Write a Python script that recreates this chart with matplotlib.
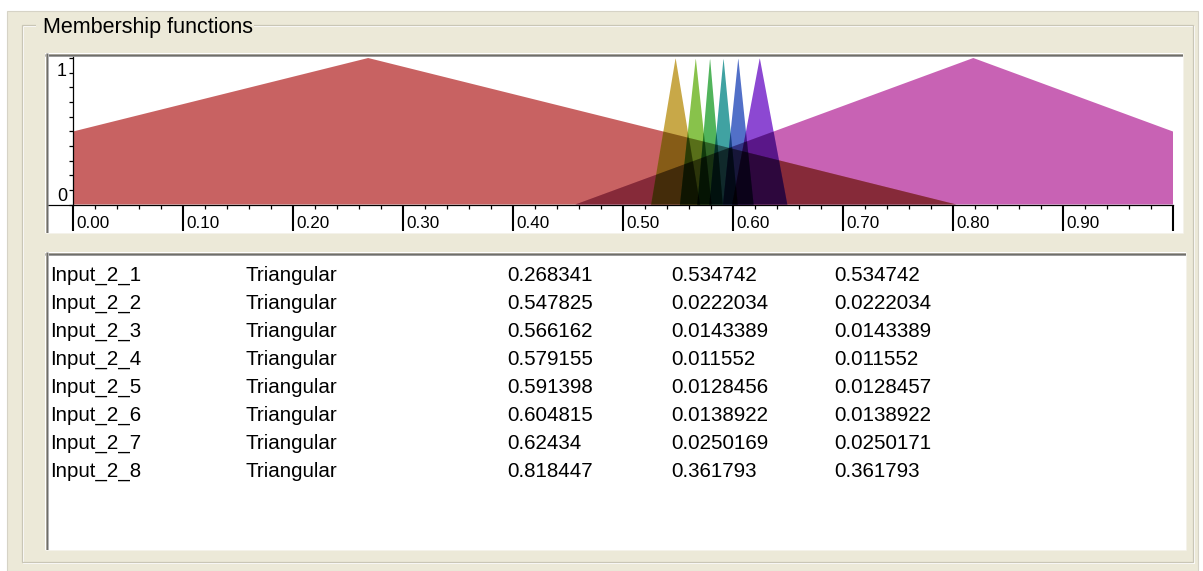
import numpy as np
import matplotlib
matplotlib.use("Agg")
import matplotlib.pyplot as plt
from matplotlib.patches import Rectangle
from matplotlib.lines import Line2D
import matplotlib.transforms as mtransforms

# ---------------- data ----------------
mf_names = ["Input_2_1", "Input_2_2", "Input_2_3", "Input_2_4",
            "Input_2_5", "Input_2_6", "Input_2_7", "Input_2_8"]
mf_types = ["Triangular"] * 8
mf_centers = [0.268341, 0.547825, 0.566162, 0.579155,
              0.591398, 0.604815, 0.62434, 0.818447]
mf_left = [0.534742, 0.0222034, 0.0143389, 0.011552,
           0.0128456, 0.0138922, 0.0250169, 0.361793]
mf_right = [0.534742, 0.0222034, 0.0143389, 0.011552,
            0.0128457, 0.0138922, 0.0250171, 0.361793]
mf_colors = ["#C86262", "#C8A848", "#88C24A", "#52B45C",
             "#36A2A2", "#5270C8", "#8C48D2", "#C862B4"]

x_major = [0.0, 0.1, 0.2, 0.3, 0.4, 0.5, 0.6, 0.7, 0.8, 0.9, 1.0]
x_labels = ["0.00", "0.10", "0.20", "0.30", "0.40", "0.50",
            "0.60", "0.70", "0.80", "0.90", ""]
y_major = [0, 1]
y_labels = ["0", "1"]
title = "Membership functions"

# ---------------- layout helpers ----------------
W, H = 1203, 571
fig = plt.figure(figsize=(W / 100, H / 100), dpi=100)
fig.patch.set_facecolor("white")

REG = ["Liberation Sans", "DejaVu Sans"]

bg = fig.add_axes([0, 0, 1, 1], zorder=0)
bg.set_xlim(0, W)
bg.set_ylim(H, 0)
bg.axis("off")

BEIGE = "#ECE9D8"


def rect(x0, y0, x1, y1, fc, ec="none", lw=0, z=1):
    bg.add_patch(Rectangle((x0, y0), x1 - x0, y1 - y0, facecolor=fc,
                           edgecolor=ec, linewidth=lw, zorder=z))


def hline(x0, x1, y, c, lw=1, z=3):
    bg.add_line(Line2D([x0, x1], [y, y], color=c, linewidth=lw * 0.72, zorder=z,
                       solid_capstyle="butt"))


def vline(x, y0, y1, c, lw=1, z=3):
    bg.add_line(Line2D([x, x], [y0, y1], color=c, linewidth=lw * 0.72, zorder=z,
                       solid_capstyle="butt"))


def sunken(x0, y0, x1, y1):
    rect(x0, y0, x1, y1, "white", z=1)
    hline(x0, x1, y0 + 0.5, "#A6A39A", 1)
    hline(x0, x1, y0 + 1.5, "#6F6E6A", 1)
    hline(x0, x1, y0 + 2.5, "#9C9C9C", 1)
    vline(x0 + 0.5, y0, y1, "#A6A39A", 1)
    vline(x0 + 1.5, y0, y1, "#6F6E6A", 1)
    vline(x0 + 2.5, y0, y1, "#B4B4B4", 1)
    hline(x0, x1, y1 - 0.5, "#F4F2EA", 1)
    vline(x1 - 0.5, y0, y1, "#F4F2EA", 1)


# window background
rect(7, 11, 1198, 571, BEIGE, ec="#D6D3C6", lw=0.8, z=0.5)
# group box (etched)
rect(22, 25, 1193, 562, "none", ec="#C9C6B6", lw=0.9, z=2)
rect(23, 26, 1194, 563, "none", ec="white", lw=0.7, z=1.9)
bg.text(37, 33, " " + title, family=REG, fontsize=15.5, color="black",
        ha="left", va="baseline", zorder=5,
        bbox=dict(facecolor=BEIGE, edgecolor="none", pad=0.5))

# plot panel and list panel
sunken(45, 53, 1183, 233)
sunken(45, 252, 1186, 550)

# x-axis continuation left of the y axis
hline(48, 73, 204.5, "black", 1.2, z=4)

# ---------------- membership function plot ----------------
ax = fig.add_axes([73 / W, 1 - 204.5 / H, 1100 / W, 147.5 / H], zorder=2)
ax.patch.set_visible(False)
ax.set_xlim(0, 1)
ax.set_ylim(0, 1.0 + 1.0 / 146)

xs = np.linspace(0, 1, 4001)


def tri(c, wl, wr):
    m = np.where(xs < c, 1 - (c - xs) / wl, 1 - (xs - c) / wr)
    return np.clip(m, 0, 1)


mus = [tri(c, l, r) for c, l, r in zip(mf_centers, mf_left, mf_right)]

ALPHA = 0.75


def base_color(hexc, a=ALPHA):
    rgb = np.array(matplotlib.colors.to_rgb(hexc))
    return tuple(np.clip((rgb - (1 - a)) / a, 0, 1))


order = [7, 0, 1, 2, 3, 4, 5, 6]
for i in order:
    ax.fill_between(xs, 0, mus[i], facecolor=base_color(mf_colors[i]),
                    alpha=ALPHA, linewidth=0, zorder=1)

# darken overlapping regions (the original composites multiplicatively)
n = len(mus)
for i in range(n):
    for j in range(i + 1, n):
        ov = np.minimum(mus[i], mus[j])
        if ov.max() > 0:
            ax.fill_between(xs, 0, ov, facecolor="black", alpha=0.28,
                            linewidth=0, zorder=2)

for s in ["top", "right"]:
    ax.spines[s].set_visible(False)
ax.spines["left"].set_linewidth(0.9)
ax.spines["bottom"].set_linewidth(0.9)

ax.set_xticks(x_major)
ax.set_xticks(np.arange(0, 1.0001, 0.02), minor=True)
ax.set_yticks(y_major)
ax.set_yticks(np.arange(0, 1.0001, 0.1), minor=True)
ax.tick_params(axis="x", which="major", length=19, width=1.5, direction="out",
               labelbottom=False, color="black")
ax.tick_params(axis="x", which="minor", length=3, width=0.9, direction="out",
               color="black")
ax.tick_params(axis="y", which="both", length=3, width=0.9, direction="out",
               labelleft=False, color="black")

tx = mtransforms.blended_transform_factory(ax.transData, ax.transAxes)
for v, lab in zip(x_major, x_labels):
    if lab:
        ax.text(v, 0, lab,
                transform=tx + mtransforms.ScaledTranslation(3 / 100, -23.5 / 100, fig.dpi_scale_trans),
                family=REG, fontsize=12.3, ha="left", va="baseline",
                color="black", clip_on=False)

ty = mtransforms.blended_transform_factory(ax.transAxes, ax.transData)
for v, lab in zip(y_major, y_labels):
    dy = 3.5 if v == 0 else -18
    ax.text(0, v, lab,
            transform=ty + mtransforms.ScaledTranslation(-6 / 100, dy / 100, fig.dpi_scale_trans),
            family=REG, fontsize=13, ha="right", va="baseline",
            color="black", clip_on=False)

# ---------------- list of membership functions ----------------
col_x = [50, 245, 507, 671, 834]
row0, row_step = 281, 28
for k, (nm, tp, c, l, r) in enumerate(zip(mf_names, mf_types, mf_centers,
                                          mf_left, mf_right)):
    yb = row0 + k * row_step
    vals = [nm, tp, "%g" % c, "%g" % l, "%g" % r]
    for cx, s in zip(col_x, vals):
        bg.text(cx, yb, s, family=REG, fontsize=14.8, color="black",
                ha="left", va="baseline", zorder=5)

fig.savefig("out.png", dpi=100)
